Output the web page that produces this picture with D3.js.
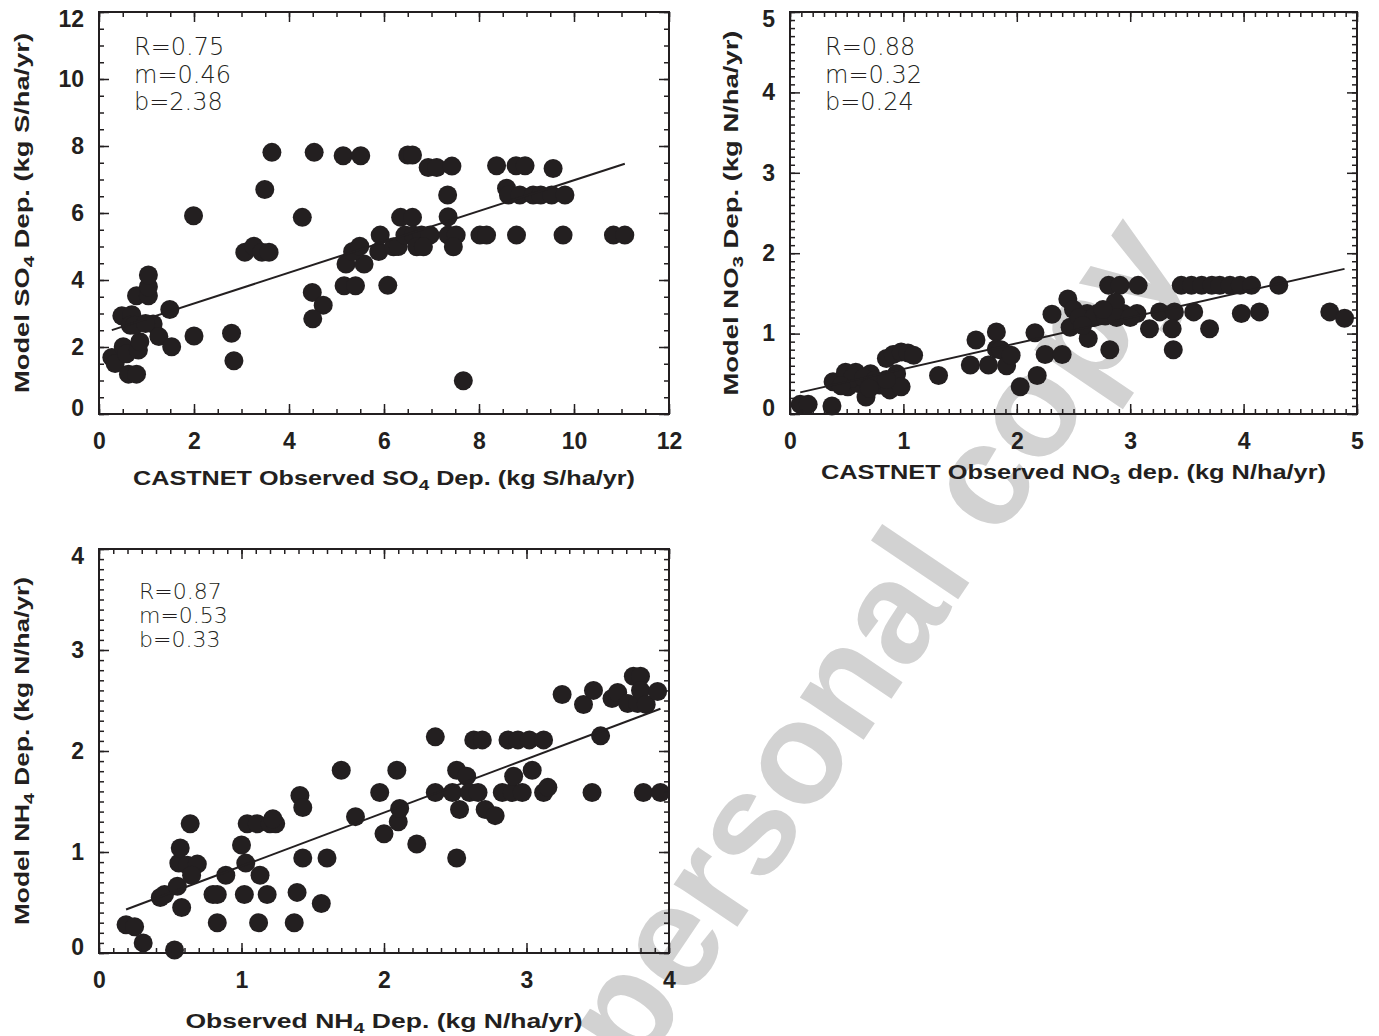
<!DOCTYPE html>
<html>
<head>
<meta charset="utf-8">
<title>Model vs CASTNET deposition</title>
<script src="https://cdn.jsdelivr.net/npm/d3@7"></script>
<style>
  body { margin: 0; background: #fff; }
  .tick text { font-family: "Liberation Sans", Arial, sans-serif; font-weight: bold; font-size: 23px; fill: #231f20; }
  .tick line { stroke: #231f20; stroke-width: 1.5; }
  .ttl { font-family: "Liberation Sans", Arial, sans-serif; font-weight: bold; font-size: 20px; fill: #231f20; }
  .stat { font-family: "DejaVu Sans", sans-serif; font-weight: 300; fill: #231f20; }
  .wm { font-family: "Liberation Sans", Arial, sans-serif; font-weight: bold; font-size: 145px; fill: #d2d2d2; }
</style>
</head>
<body>
<svg id="chart" width="1379" height="1036"></svg>
<script>

  /* SO4: CASTNET observed vs model (kg S/ha/yr) */
  var so4Obs = [0.27, 0.34, 0.51, 0.58, 0.83, 0.86, 0.48, 0.69, 0.66, 0.75, 0.62, 0.79,
    0.79, 1.04, 1.04, 1.04, 1.14, 0.98, 1.26, 1.53, 1.49, 1.99, 2.0, 2.79, 2.84,
    3.07, 3.26, 3.43, 3.58, 3.49, 3.64, 4.53, 4.28, 4.49, 4.72, 4.5,
    5.14, 5.51, 5.16, 5.4, 6.08, 5.2, 5.58, 5.34, 5.49, 5.89, 5.92, 6.2, 6.3,
    6.5, 6.6, 6.93, 7.11, 7.43, 8.37, 8.78, 8.97, 9.56, 7.34, 8.58, 8.62, 8.86, 9.14, 9.3, 9.53, 9.81,
    6.35, 6.6, 7.35,
    6.44, 6.62, 6.79, 6.97, 7.35, 7.52, 8.02, 8.16, 8.79, 9.77, 10.83, 11.07,
    6.69, 6.83, 7.46, 7.67];
  var so4Model = [1.69, 1.51, 2.01, 1.80, 1.91, 2.16, 2.93, 2.96, 2.65, 2.65, 1.19, 1.19,
    3.53, 3.53, 3.80, 4.15, 2.69, 2.70, 2.31, 2.01, 3.12, 5.92, 2.33, 2.41, 1.59,
    4.83, 5.01, 4.83, 4.83, 6.70, 7.81, 7.81, 5.87, 3.63, 3.25, 2.84,
    7.71, 7.71, 3.83, 3.83, 3.84, 4.48, 4.48, 4.85, 5.01, 4.85, 5.34, 4.99, 5.0,
    7.73, 7.73, 7.36, 7.36, 7.40, 7.41, 7.41, 7.41, 7.33, 6.54, 6.74, 6.54, 6.54, 6.54, 6.54, 6.54, 6.54,
    5.87, 5.87, 5.89,
    5.34, 5.34, 5.34, 5.34, 5.34, 5.34, 5.34, 5.34, 5.34, 5.34, 5.34, 5.34,
    4.99, 4.99, 4.99, 0.99];

  /* NO3: CASTNET observed vs model (kg N/ha/yr) */
  var no3Obs = [0.09, 0.16, 0.37, 0.38, 0.49, 0.58, 0.51, 0.60, 0.71, 0.67, 0.79, 0.88, 0.94, 0.98,
    0.55, 0.65, 0.75, 0.85, 0.45, 0.70,
    0.85, 0.91, 0.98, 1.04, 1.09,
    1.31, 1.59, 1.64, 1.75, 1.82, 1.82, 1.86, 1.91, 1.95, 2.03, 2.16, 2.18, 2.25, 2.31, 2.40, 2.45, 2.47, 2.50,
    2.81, 2.91, 3.07, 3.45, 3.54, 3.63, 3.72, 3.79, 3.88, 3.97, 4.07, 4.31,
    2.62, 2.71, 2.82, 2.94, 3.06, 3.26, 3.39, 3.56, 3.98, 4.14, 4.76, 4.89,
    2.87, 2.63, 3.17, 3.37, 3.70, 2.82, 3.38,
    2.55, 2.68, 2.78, 2.88, 3.0, 2.58, 2.76];
  var no3Model = [0.12, 0.12, 0.10, 0.40, 0.52, 0.52, 0.34, 0.38, 0.50, 0.21, 0.36, 0.30, 0.50, 0.34,
    0.45, 0.45, 0.42, 0.43, 0.35, 0.32,
    0.69, 0.74, 0.77, 0.76, 0.73,
    0.48, 0.61, 0.92, 0.61, 1.02, 0.81, 0.80, 0.60, 0.73, 0.34, 1.01, 0.48, 0.74, 1.24, 0.74, 1.43, 1.08, 1.30,
    1.60, 1.60, 1.60, 1.60, 1.60, 1.60, 1.60, 1.60, 1.60, 1.60, 1.60, 1.60,
    1.25, 1.25, 1.25, 1.25, 1.25, 1.27, 1.27, 1.27, 1.25, 1.27, 1.27, 1.19,
    1.39, 0.94, 1.06, 1.06, 1.06, 0.80, 0.80,
    1.20, 1.20, 1.22, 1.20, 1.20, 1.10, 1.30];

  /* NH4: observed vs model (kg N/ha/yr) */
  var nh4Obs = [0.19, 0.25, 0.31, 0.53, 0.43, 0.46, 0.55, 0.58, 0.56, 0.57, 0.62, 0.69, 0.64, 0.65,
    0.80, 0.83, 0.83, 0.89, 1.0, 1.02, 1.03, 1.12, 1.13, 1.18, 1.04, 1.11, 1.20, 1.24, 1.22,
    1.37, 1.39, 1.41, 1.43, 1.43, 1.56, 1.60, 1.70, 1.80, 1.97, 2.0, 2.09, 2.10, 2.11, 2.23,
    2.36, 2.36, 2.48, 2.51, 2.58, 2.53, 2.51, 2.60, 2.66, 2.63, 2.69, 2.71, 2.78, 2.83, 2.87,
    2.90, 2.91, 2.94, 2.97, 3.02, 3.04, 3.12, 3.12, 3.15, 3.25, 3.40, 3.46, 3.47, 3.52, 3.60,
    3.64, 3.71, 3.75, 3.78, 3.80, 3.80, 3.84, 3.82, 3.92, 3.94];
  var nh4Model = [0.28, 0.26, 0.10, 0.03, 0.55, 0.58, 0.66, 0.45, 0.89, 1.04, 0.87, 0.88, 1.28, 0.77,
    0.58, 0.58, 0.30, 0.77, 1.07, 0.58, 0.89, 0.30, 0.77, 0.58, 1.28, 1.28, 1.28, 1.28, 1.33,
    0.30, 0.60, 1.56, 1.44, 0.94, 0.49, 0.94, 1.81, 1.35, 1.59, 1.18, 1.81, 1.30, 1.43, 1.08,
    2.14, 1.59, 1.59, 1.81, 1.75, 1.42, 0.94, 1.59, 1.59, 2.11, 2.11, 1.42, 1.36, 1.59, 2.11,
    1.59, 1.75, 2.11, 1.59, 2.11, 1.81, 2.11, 1.59, 1.64, 2.56, 2.46, 1.59, 2.60, 2.15, 2.52,
    2.58, 2.47, 2.74, 2.47, 2.74, 2.60, 2.46, 1.59, 2.59, 1.59];

  /* tick labels and fit statistics */
  var so4Ticks = [0, 2, 4, 6, 8, 10, 12];
  var no3Ticks = [0, 1, 2, 3, 4, 5];
  var nh4Ticks = [0, 1, 2, 3, 4];
  var so4Stats = ["R=0.75", "m=0.46", "b=2.38"];
  var no3Stats = ["R=0.88", "m=0.32", "b=0.24"];
  var nh4Stats = ["R=0.87", "m=0.53", "b=0.33"];
  var so4Fit = [0.46, 2.38];
  var no3Fit = [0.32, 0.24];
  var nh4Fit = [0.53, 0.33];

  var ink = "#231f20";
  var svg = d3.select("#chart");
  svg.append("rect").attr("width", 1379).attr("height", 1036).attr("fill", "#fff");

  /* watermark sits under everything */
  svg.append("text")
    .attr("class", "wm")
    .attr("text-anchor", "middle")
    .attr("transform", "translate(912,668) rotate(-56)")
    .text("personal copy");

  /* text with a lowered subscript part, squeezed to a given width */
  function richText(g, parts, len) {
    var t = g.append("text").attr("class", "ttl").attr("text-anchor", "middle")
      .attr("textLength", len).attr("lengthAdjust", "spacingAndGlyphs");
    parts.forEach(function (p, i) {
      var s = t.append("tspan").text(p);
      if (i % 2 == 1) { s.attr("dy", 5).style("font-size", "15px"); }
      else if (i > 0) { s.attr("dy", -5); }
    });
    return t;
  }

  function drawPanel(p) {
    var x = d3.scaleLinear().domain([0, p.max]).range([p.left, p.right]);
    var y = d3.scaleLinear().domain([0, p.max]).range([p.bottom, p.top]);
    var g = svg.append("g");

    /* points */
    g.selectAll("circle").data(p.obs).enter().append("circle")
      .attr("cx", function (d) { return x(d); })
      .attr("cy", function (d, i) { return y(p.model[i]); })
      .attr("r", 9.5)
      .attr("fill", ink);

    /* regression line over the observed range */
    var x0 = d3.min(p.obs), x1 = d3.max(p.obs);
    g.append("line")
      .attr("x1", x(x0)).attr("y1", y(p.fit[0] * x0 + p.fit[1]))
      .attr("x2", x(x1)).attr("y2", y(p.fit[0] * x1 + p.fit[1]))
      .attr("stroke", ink).attr("stroke-width", 2);

    /* frame */
    g.append("rect")
      .attr("x", p.left).attr("y", p.top)
      .attr("width", p.right - p.left).attr("height", p.bottom - p.top)
      .attr("fill", "none").attr("stroke", ink).attr("stroke-width", 2);

    /* minor ticks on all four sides */
    var minor = d3.range(0, p.max + 1e-6, p.minor);
    g.append("g").attr("transform", "translate(0," + p.bottom + ")")
      .call(d3.axisBottom(x).tickValues(minor).tickSizeInner(-5).tickSizeOuter(0).tickFormat(""));
    g.append("g").attr("transform", "translate(0," + p.top + ")")
      .call(d3.axisTop(x).tickValues(minor).tickSizeInner(-5).tickSizeOuter(0).tickFormat(""));
    g.append("g").attr("transform", "translate(" + p.left + ",0)")
      .call(d3.axisLeft(y).tickValues(minor).tickSizeInner(-5).tickSizeOuter(0).tickFormat(""));
    g.append("g").attr("transform", "translate(" + p.right + ",0)")
      .call(d3.axisRight(y).tickValues(minor).tickSizeInner(-5).tickSizeOuter(0).tickFormat(""));

    /* major ticks */
    g.append("g").attr("transform", "translate(0," + p.bottom + ")")
      .call(d3.axisBottom(x).tickValues(p.ticks).tickSizeInner(-10).tickSizeOuter(0).tickPadding(19).tickFormat(d3.format("d")));
    g.append("g").attr("transform", "translate(0," + p.top + ")")
      .call(d3.axisTop(x).tickValues(p.ticks).tickSizeInner(-10).tickSizeOuter(0).tickFormat(""));
    var ya = g.append("g").attr("transform", "translate(" + p.left + ",0)")
      .call(d3.axisLeft(y).tickValues(p.ticks).tickSizeInner(-10).tickSizeOuter(0).tickPadding(15).tickFormat(d3.format("d")));
    g.append("g").attr("transform", "translate(" + p.right + ",0)")
      .call(d3.axisRight(y).tickValues(p.ticks).tickSizeInner(-10).tickSizeOuter(0).tickFormat(""));

    /* end labels on y are pulled inside the frame */
    ya.selectAll(".tick text").attr("y", function (d) {
      if (d == 0) return -6;
      if (d == p.max) return 7;
      return 0;
    });
    g.selectAll(".domain").remove();

    /* titles */
    richText(g, p.xTitle, p.xLen).attr("x", (p.left + p.right) / 2).attr("y", p.xTitleY);
    richText(g, p.yTitle, p.yLen)
      .attr("transform", "translate(" + p.yTitleX + "," + ((p.top + p.bottom) / 2) + ") rotate(-90)");

    /* fit statistics */
    g.selectAll("text.stat").data(p.stats).enter().append("text")
      .attr("class", "stat")
      .style("font-size", p.statSize + "px")
      .attr("x", p.statX)
      .attr("y", function (d, i) { return p.statY + i * p.statGap; })
      .text(function (d) { return d; });
  }

  drawPanel({
    obs: so4Obs, model: so4Model, fit: so4Fit, ticks: so4Ticks, stats: so4Stats,
    max: 12, minor: 0.5,
    left: 99, right: 669, top: 12, bottom: 414,
    xTitle: ["CASTNET Observed SO", "4", " Dep. (kg S/ha/yr)"], xLen: 502, xTitleY: 485,
    yTitle: ["Model SO", "4", " Dep. (kg S/ha/yr)"], yLen: 360, yTitleX: 29,
    statX: 134, statY: 55, statGap: 27.5, statSize: 24
  });

  drawPanel({
    obs: no3Obs, model: no3Model, fit: no3Fit, ticks: no3Ticks, stats: no3Stats,
    max: 5, minor: 0.1,
    left: 790, right: 1357, top: 12, bottom: 414,
    xTitle: ["CASTNET Observed NO", "3", " dep. (kg N/ha/yr)"], xLen: 505, xTitleY: 479,
    yTitle: ["Model NO", "3", " Dep. (kg N/ha/yr)"], yLen: 365, yTitleX: 738,
    statX: 825, statY: 55, statGap: 27.5, statSize: 24
  });

  drawPanel({
    obs: nh4Obs, model: nh4Model, fit: nh4Fit, ticks: nh4Ticks, stats: nh4Stats,
    max: 4, minor: 0.1,
    left: 99, right: 669, top: 549, bottom: 953,
    xTitle: ["Observed NH", "4", " Dep. (kg N/ha/yr)"], xLen: 397, xTitleY: 1028,
    yTitle: ["Model NH", "4", " Dep. (kg N/ha/yr)"], yLen: 348, yTitleX: 29,
    statX: 139, statY: 599, statGap: 24, statSize: 22
  });

</script>
</body>
</html>
